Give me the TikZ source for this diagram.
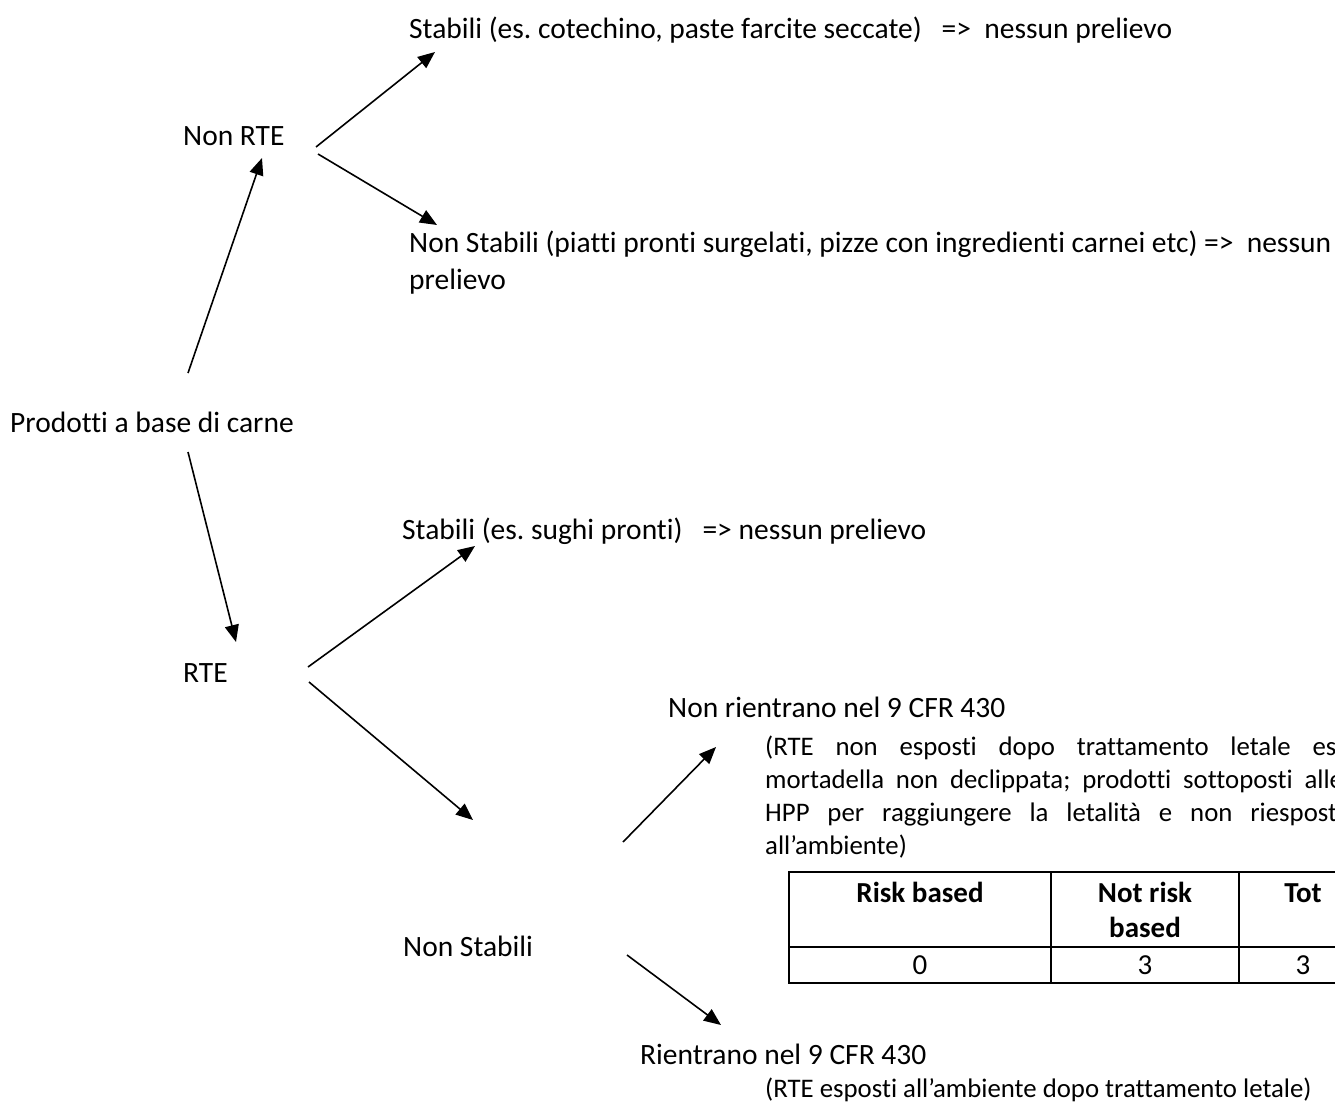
\documentclass[tikz,border=0pt]{standalone}
\usepackage{fontspec}
\setmainfont{Carlito}[Ligatures=NoCommon]
\usetikzlibrary{arrows.meta}
\begin{document}
\frenchspacing
\begin{tikzpicture}[x=1pt,y=-1pt,
  lbl/.style={anchor=base west,inner sep=0pt,font=\fontsize{29.5}{35}\selectfont},
  note/.style={anchor=base west,inner sep=0pt,font=\fontsize{26.8}{33}\selectfont},
  cell/.style={anchor=base,inner sep=0pt,font=\fontsize{29}{35}\selectfont\bfseries},
  val/.style={anchor=base,inner sep=0pt,font=\fontsize{29}{35}\selectfont},
  conn/.style={line width=1.6pt,-{Triangle[length=17pt,width=14pt]}},
  outer/.style={line width=2.6pt},
  inner/.style={line width=1.3pt}]
\useasboundingbox (0,0) rectangle (1335,1102);
% text nodes
\node[lbl] (s1) at (409,39) {Stabili (es. cotechino, paste farcite seccate)\ \ \ =>\ \ nessun prelievo};
\node[lbl] (nrte) at (183,146) {Non RTE};
\node[lbl] (ns1) at (409,252) {Non Stabili (piatti pronti surgelati, pizze con ingredienti carnei etc) =>\ \ nessun};
\node[lbl] (ns1b) at (409,289) {prelievo};
\node[lbl] (prod) at (10,432) {Prodotti a base di carne};
\node[lbl] (s2) at (402,539) {Stabili (es. sughi pronti)\ \ \ => nessun prelievo};
\node[lbl] (rte) at (183,682) {RTE};
\node[lbl] (nrin) at (668,717) {Non rientrano nel 9 CFR 430};
\node[note] (p1) at (765,755) {\makebox[578pt][s]{(RTE non esposti dopo trattamento letale es.}};
\node[note] (p2) at (765,788) {\makebox[578pt][s]{mortadella non declippata; prodotti sottoposti alle}};
\node[note] (p3) at (765,821) {\makebox[578pt][s]{HPP per raggiungere la letalità e non riesposti}};
\node[note] (p4) at (765,854) {all’ambiente)};
\node[lbl] (ns2) at (403,956) {Non Stabili};
\node[lbl] (rin) at (640,1064) {Rientrano nel 9 CFR 430};
\node[note] (rinp) at (765,1097) {(RTE esposti all’ambiente dopo trattamento letale)};
% table
\coordinate (tTL) at (789,872);
\coordinate (tTR) at (1367,872);
\coordinate (tML) at (789,947);
\coordinate (tMR) at (1367,947);
\coordinate (tBL) at (789,983);
\coordinate (tBR) at (1367,983);
\coordinate (c1t) at (1051,872);
\coordinate (c1b) at (1051,983);
\coordinate (c2t) at (1239,872);
\coordinate (c2b) at (1239,983);
\draw[inner] (tML) -- (tMR);
\draw[inner] (c1t) -- (c1b);
\draw[inner] (c2t) -- (c2b);
\draw[outer] (tTR) -- (tTL) -- (tBL) -- (tBR);
\node[cell] (h1) at (920,902) {Risk based};
\node[cell] (h2) at (1145,902) {Not risk};
\node[cell] (h2b) at (1145,937) {based};
\node[cell] (h3) at (1303,902) {Tot};
\node[val] (v1) at (920,974) {0};
\node[val] (v2) at (1145,974) {3};
\node[val] (v3) at (1303,974) {3};
% connector ends
\coordinate (a1s) at (188,373); \coordinate (a1e) at (262,158);
\coordinate (a2s) at (316,147); \coordinate (a2e) at (435,52);
\coordinate (a3s) at (318,154); \coordinate (a3e) at (437,225);
\coordinate (a4s) at (188,452); \coordinate (a4e) at (236,642);
\coordinate (a5s) at (308,667); \coordinate (a5e) at (475,546);
\coordinate (a6s) at (309,682); \coordinate (a6e) at (473,820);
\coordinate (a7s) at (623,842); \coordinate (a7e) at (716,747);
\coordinate (a8s) at (627,955); \coordinate (a8e) at (721,1025);
\draw[conn] (a1s) -- (a1e);
\draw[conn] (a2s) -- (a2e);
\draw[conn] (a3s) -- (a3e);
\draw[conn] (a4s) -- (a4e);
\draw[conn] (a5s) -- (a5e);
\draw[conn] (a6s) -- (a6e);
\draw[conn] (a7s) -- (a7e);
\draw[conn] (a8s) -- (a8e);
\end{tikzpicture}
\end{document}
